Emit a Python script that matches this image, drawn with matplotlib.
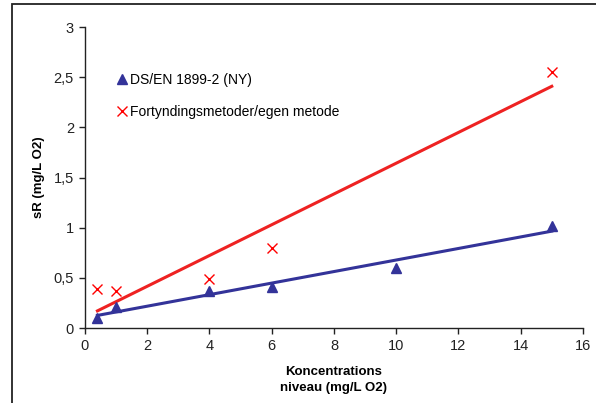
import numpy as np
import matplotlib
matplotlib.use('Agg')
import matplotlib.pyplot as plt
from matplotlib.patches import Rectangle

# data
x_ds = [0.4, 1, 4, 6, 10, 15]
y_ds = [0.10, 0.21, 0.37, 0.41, 0.60, 1.02]
x_fort = [0.4, 1, 4, 6, 15]
y_fort = [0.385, 0.37, 0.49, 0.80, 2.55]
label_ds = 'DS/EN 1899-2 (NY)'
label_fort = 'Fortyndingsmetoder/egen metode'

plt.rcParams['font.family'] = ['Liberation Sans', 'DejaVu Sans']
plt.rcParams['font.size'] = 10.5

blue = '#333399'
red = '#FF0000'

fig = plt.figure(figsize=(5.96, 4.03), dpi=100)
ax = fig.add_axes([0.1426, 0.186, 0.978 - 0.1426, 0.933 - 0.186])

# outer frame, cut off at right and bottom like the reference
fig.patches.append(Rectangle((12 / 596, -0.1), 1.2, (403 - 4) / 403 + 0.1,
                             transform=fig.transFigure, fill=False,
                             edgecolor='#222222', linewidth=1.3))

# linear trend lines (Excel style)
for xs, ys, c in [(x_ds, y_ds, blue), (x_fort, y_fort, '#EE2222')]:
    k, m = np.polyfit(xs, ys, 1)
    xx = np.array([min(xs), max(xs)])
    ax.plot(xx, k * xx + m, color=c, linewidth=2.2, zorder=2)

ax.plot(x_ds, y_ds, linestyle='none', marker='^', markersize=7.5,
        color=blue, label=label_ds, zorder=3)
ax.plot(x_fort, y_fort, linestyle='none', marker='x', markersize=7,
        markeredgewidth=1.0, color=red, label=label_fort, zorder=3)

ax.set_xlim(0, 16)
ax.set_ylim(0, 3)
ax.set_xticks(range(0, 17, 2))
ax.set_yticks([0, 0.5, 1, 1.5, 2, 2.5, 3])
ax.set_yticklabels(['0', '0,5', '1', '1,5', '2', '2,5', '3'])
ax.spines['top'].set_visible(False)
ax.spines['right'].set_visible(False)
for s in ['left', 'bottom']:
    ax.spines[s].set_linewidth(1.0)
    ax.spines[s].set_color('#222222')
ax.tick_params(direction='out', length=4, width=1.0, colors='#222222',
               labelcolor='#222222', pad=4)

ax.set_xlabel('Koncentrations\nniveau (mg/L O2)', fontweight='bold',
              fontsize=9.5, labelpad=9, linespacing=1.5)
ax.set_ylabel('sR (mg/L O2)', fontweight='bold', fontsize=9.5, labelpad=6)

ax.legend(loc='upper left', bbox_to_anchor=(0.054, 0.865), frameon=False,
          handlelength=0.6, handletextpad=0.3, labelspacing=1.3,
          borderaxespad=0, fontsize=10)

fig.savefig('out.png', dpi=100)
